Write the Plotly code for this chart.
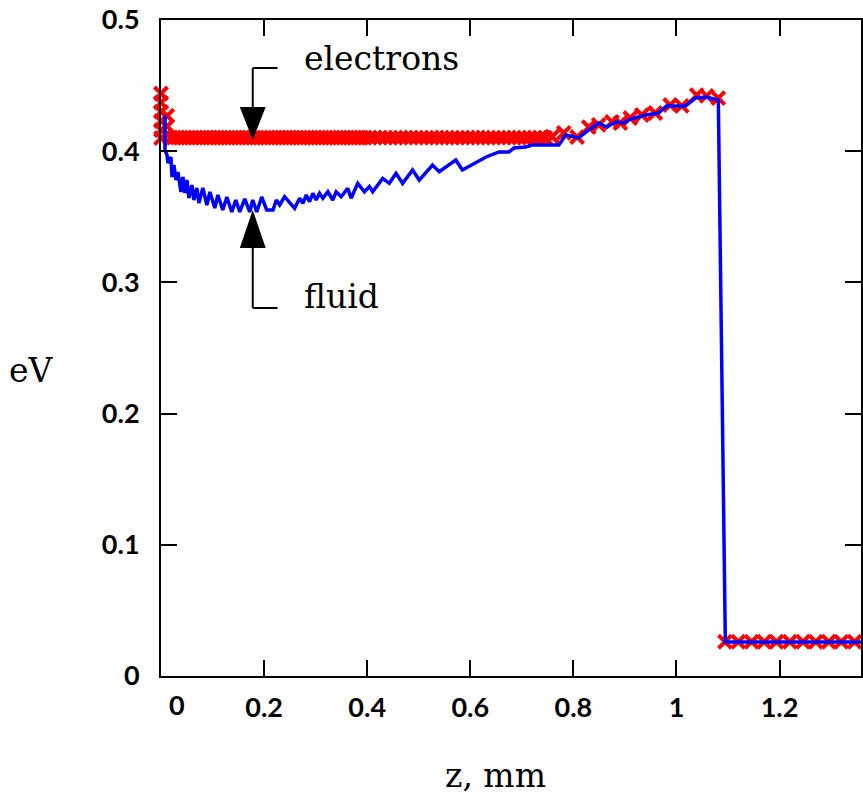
import plotly.graph_objects as go

# ---- fluid electron temperature profile (eV) along z (mm) ----
fluid_z = [
    0.0077, 0.0077, 0.0116, 0.0135, 0.0193, 0.0213, 0.0251, 0.0290, 0.0329, 0.0387,
    0.0426, 0.0464, 0.0503, 0.0542, 0.0600, 0.0638, 0.0696, 0.0735, 0.0812, 0.0890,
    0.0948, 0.1044, 0.1103, 0.1199, 0.1277, 0.1373, 0.1451, 0.1528, 0.1625, 0.1721,
    0.1780, 0.1857, 0.1954, 0.2050, 0.2173, 0.2237, 0.2302, 0.2398, 0.2592, 0.2689,
    0.2753, 0.2818, 0.2882, 0.2946, 0.3011, 0.3075, 0.3140, 0.3237, 0.3333, 0.3398,
    0.3495, 0.3623, 0.3688, 0.3817, 0.3946, 0.4043, 0.4107, 0.4300, 0.4429, 0.4559,
    0.4687, 0.4880, 0.5010, 0.5267, 0.5397, 0.5719, 0.5847, 0.6112, 0.6306, 0.6557,
    0.6750, 0.6847, 0.7079, 0.7195, 0.7718, 0.7853, 0.8104, 0.8298, 0.8491, 0.8646,
    0.8820, 0.8975, 0.9110, 0.9400, 0.9652, 0.9807, 1.0174, 1.0368, 1.0580, 1.0812,
    1.0948, 1.3580,
]
fluid_T = [
    0.4276, 0.4009, 0.3971, 0.3910, 0.3956, 0.3803, 0.3895, 0.3780, 0.3841, 0.3689,
    0.3803, 0.3681, 0.3780, 0.3643, 0.3742, 0.3628, 0.3720, 0.3605, 0.3720, 0.3590,
    0.3689, 0.3567, 0.3666, 0.3552, 0.3651, 0.3537, 0.3628, 0.3537, 0.3636, 0.3537,
    0.3628, 0.3537, 0.3651, 0.3552, 0.3552, 0.3628, 0.3590, 0.3653, 0.3564, 0.3641,
    0.3603, 0.3666, 0.3615, 0.3679, 0.3628, 0.3679, 0.3641, 0.3691, 0.3628, 0.3691,
    0.3653, 0.3717, 0.3641, 0.3755, 0.3691, 0.3730, 0.3691, 0.3793, 0.3755, 0.3831,
    0.3755, 0.3857, 0.3780, 0.3895, 0.3844, 0.3933, 0.3857, 0.3918, 0.3956, 0.3994,
    0.3994, 0.4024, 0.4032, 0.4047, 0.4047, 0.4123, 0.4101, 0.4162, 0.4215, 0.4184,
    0.4223, 0.4215, 0.4245, 0.4276, 0.4291, 0.4345, 0.4345, 0.4405, 0.4413, 0.4390,
    0.0259, 0.0259,
]

# ---- kinetic electrons: cathode-side cells, plateau, then anode-side cells ----
elec_edge_z = [0.0, 0.0, 0.0, 0.0, 0.0, 0.0, 0.012, 0.012]
elec_edge_T = [0.444, 0.437, 0.430, 0.423, 0.416, 0.410, 0.427, 0.419]

elec_plateau_z = [
    0.018, 0.025, 0.032, 0.039, 0.046, 0.053, 0.060, 0.067, 0.074, 0.081,
    0.088, 0.095, 0.102, 0.109, 0.116, 0.123, 0.130, 0.137, 0.144, 0.151,
    0.158, 0.165, 0.172, 0.179, 0.186, 0.193, 0.200, 0.207, 0.214, 0.221,
    0.228, 0.235, 0.242, 0.249, 0.256, 0.263, 0.270, 0.277, 0.284, 0.291,
    0.298, 0.305, 0.312, 0.319, 0.326, 0.333, 0.340, 0.347, 0.354, 0.361,
    0.368, 0.375, 0.382, 0.389, 0.396, 0.405, 0.415, 0.425, 0.435, 0.445,
    0.455, 0.465, 0.475, 0.485, 0.495, 0.505, 0.515, 0.525, 0.535, 0.545,
    0.555, 0.565, 0.575, 0.585, 0.595, 0.605, 0.615, 0.625, 0.635, 0.645,
    0.655, 0.665, 0.675, 0.685, 0.695, 0.705, 0.715, 0.725, 0.735, 0.745,
]
elec_plateau_level = 0.4104

elec_tail_z = [
    0.7588, 0.7814, 0.8072, 0.8298, 0.8491, 0.8749, 0.8911, 0.9104, 0.9329, 0.9588,
    0.9878, 1.0103, 1.0393, 1.0586, 1.0812,
    1.0942, 1.1199, 1.1457, 1.1702, 1.1940, 1.2199, 1.2456, 1.2702, 1.2954, 1.3197,
    1.3456,
]
elec_tail_T = [
    0.4110, 0.4139, 0.4108, 0.4184, 0.4200, 0.4223, 0.4215, 0.4253, 0.4276, 0.4291,
    0.4352, 0.4345, 0.4428, 0.4421, 0.4405,
    0.0261, 0.0261, 0.0261, 0.0261, 0.0261, 0.0261, 0.0261, 0.0261, 0.0261, 0.0261,
    0.0261,
]

elec_z = elec_edge_z + elec_plateau_z + elec_tail_z
elec_T = elec_edge_T + [elec_plateau_level] * len(elec_plateau_z) + elec_tail_T

x_ticks = [0, 0.2, 0.4, 0.6, 0.8, 1, 1.2]
x_ticktext = ["", "0.2", "0.4", "0.6", "0.8", "1", "1.2"]
y_ticks = [0, 0.1, 0.2, 0.3, 0.4, 0.5]
y_ticktext = ["0", "0.1", "0.2", "0.3", "0.4", "0.5"]

SERIF = "DejaVu Serif"
TEXT_SIZE = 33
TICKFONT = dict(family="Lato", size=27, color="black", weight="bold")

fig = go.Figure()
fig.add_trace(go.Scatter(
    x=elec_z, y=elec_T, mode="markers", cliponaxis=False,
    marker=dict(symbol="x-thin", size=13, color="red",
                line=dict(color="red", width=4)),
    showlegend=False,
))
fig.add_trace(go.Scatter(
    x=fluid_z, y=fluid_T, mode="lines", cliponaxis=False,
    line=dict(color="blue", width=3.5),
    showlegend=False,
))

# pointer brackets and arrowheads for the two curve labels
ax_x, bracket_end = 0.178, 0.226
half_w = 0.0251
shapes = [
    dict(type="line", x0=ax_x, x1=bracket_end, y0=0.4634, y1=0.4634),
    dict(type="line", x0=ax_x, x1=ax_x, y0=0.4634, y1=0.4337),
    dict(type="path", path=f"M {ax_x - half_w},0.4337 L {ax_x + half_w},0.4337 L {ax_x},0.4085 Z",
         fillcolor="black", line=dict(width=0)),
    dict(type="line", x0=ax_x, x1=bracket_end, y0=0.2805, y1=0.2805),
    dict(type="line", x0=ax_x, x1=ax_x, y0=0.2805, y1=0.3262),
    dict(type="path", path=f"M {ax_x - half_w},0.3262 L {ax_x + half_w},0.3262 L {ax_x},0.3552 Z",
         fillcolor="black", line=dict(width=0)),
]
for s in shapes:
    s.setdefault("xref", "x")
    s.setdefault("yref", "y")
    if s["type"] == "line":
        s["line"] = dict(color="black", width=2)
fig.update_layout(shapes=shapes)

annotations = [
    dict(text="electrons", x=0.2727, y=0.4710, xref="x", yref="y",
         xanchor="left", yanchor="middle", showarrow=False,
         font=dict(family=SERIF, size=TEXT_SIZE, color="black")),
    dict(text="fluid", x=0.2727, y=0.2896, xref="x", yref="y",
         xanchor="left", yanchor="middle", showarrow=False,
         font=dict(family=SERIF, size=TEXT_SIZE, color="black")),
    dict(text="eV", x=-0.185, y=0.465, xref="paper", yref="paper",
         xanchor="center", yanchor="middle", showarrow=False,
         font=dict(family=SERIF, size=TEXT_SIZE, color="black")),
    dict(text="z, mm", x=0.478, y=-0.152, xref="paper", yref="paper",
         xanchor="center", yanchor="middle", showarrow=False,
         font=dict(family=SERIF, size=TEXT_SIZE, color="black")),
    dict(text="0", x=0.031, y=-0.044, xref="x", yref="paper",
         xanchor="center", yanchor="middle", showarrow=False,
         font=TICKFONT),
]
fig.update_layout(annotations=annotations)

fig.update_xaxes(
    range=[0, 1.358], tickvals=x_ticks, ticktext=x_ticktext,
    ticks="inside", ticklen=16, tickwidth=2, tickcolor="black",
    showline=True, linewidth=2, linecolor="black", mirror="allticks",
    showgrid=False, zeroline=False, tickfont=TICKFONT, ticklabelstandoff=7,
)
fig.update_yaxes(
    range=[0, 0.5], tickvals=y_ticks, ticktext=y_ticktext,
    ticks="inside", ticklen=16, tickwidth=2, tickcolor="black",
    showline=True, linewidth=2, linecolor="black", mirror="allticks",
    showgrid=False, zeroline=False, tickfont=TICKFONT, ticklabelstandoff=14,
)

fig.update_layout(
    width=863, height=798,
    margin=dict(l=161, r=0, t=20, b=122, pad=0),
    paper_bgcolor="white", plot_bgcolor="white",
)

fig.write_html("out.html")
